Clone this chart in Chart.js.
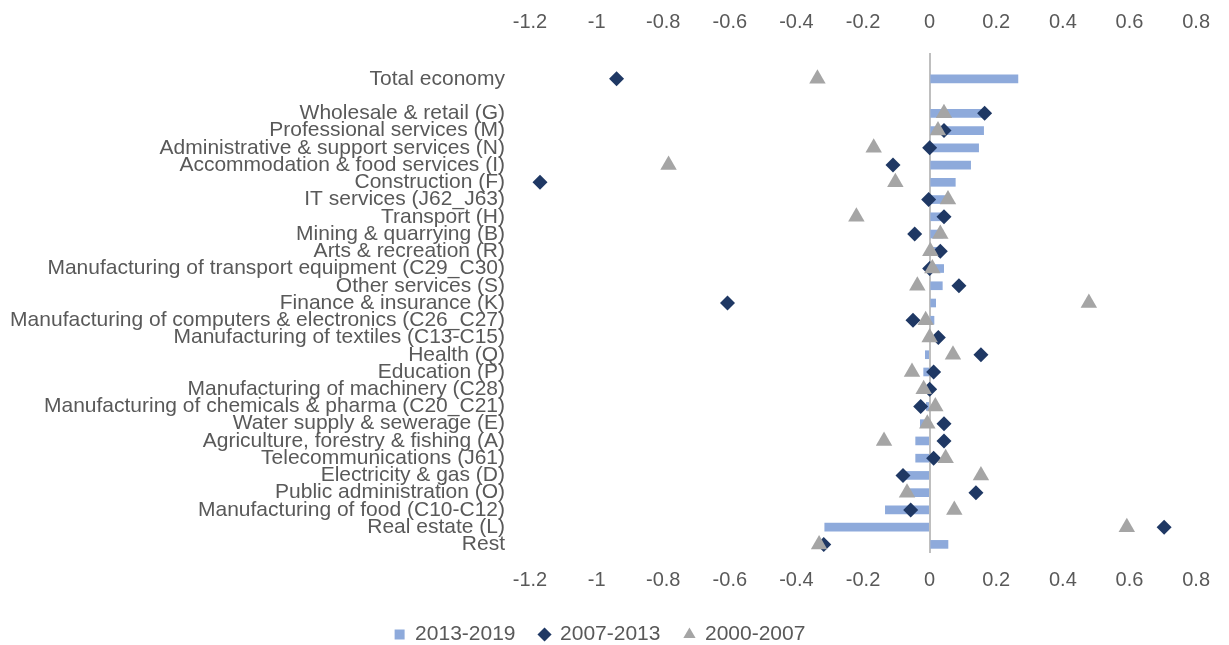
<!DOCTYPE html>
<html>
<head>
<meta charset="utf-8">
<script src="https://cdn.jsdelivr.net/npm/chart.js@4"></script>
<style>
  body { margin: 0; background: #fff; }
</style>
</head>
<body>
<canvas id="myChart" width="1229" height="645"></canvas>
<script>
"use strict";
var categories = [
  "",
  "Total economy",
  "",
  "Wholesale & retail (G)",
  "Professional services (M)",
  "Administrative & support services (N)",
  "Accommodation & food services (I)",
  "Construction (F)",
  "IT services (J62_J63)",
  "Transport (H)",
  "Mining & quarrying (B)",
  "Arts & recreation (R)",
  "Manufacturing of transport equipment (C29_C30)",
  "Other services (S)",
  "Finance & insurance (K)",
  "Manufacturing of computers & electronics (C26_C27)",
  "Manufacturing of textiles (C13-C15)",
  "Health (Q)",
  "Education (P)",
  "Manufacturing of machinery (C28)",
  "Manufacturing of chemicals & pharma (C20_C21)",
  "Water supply & sewerage (E)",
  "Agriculture, forestry & fishing (A)",
  "Telecommunications (J61)",
  "Electricity & gas (D)",
  "Public administration (O)",
  "Manufacturing of food (C10-C12)",
  "Real estate (L)",
  "Rest",
];
var seriesNames = ["2013-2019", "2007-2013", "2000-2007"];
var values2013_2019 = [
  null, 0.265, null, 0.165, 0.162, 0.147, 0.123, 0.077, 0.045, 0.035, 0.04,
  0.03, 0.042, 0.038, 0.018, 0.013, -0.005, -0.013, -0.018, -0.008, -0.01,
  -0.028, -0.042, -0.042, -0.075, -0.06, -0.133, -0.315, 0.055,
];
var values2007_2013 = [
  null, -0.94, null, 0.165, 0.043, 0.0, -0.11, -1.17, -0.003, 0.043, -0.045,
  0.032, 0.0, 0.088, -0.607, -0.05, 0.026, 0.154, 0.012, 0.0, -0.027, 0.043,
  0.043, 0.012, -0.08, 0.139, -0.057, 0.704, -0.318,
];
var values2000_2007 = [
  null, -0.337, null, 0.043, 0.025, -0.168, -0.784, -0.103, 0.055, -0.22,
  0.032, 0.002, 0.008, -0.037, 0.478, -0.012, 0.0, 0.07, -0.053, -0.018,
  0.017, -0.007, -0.137, 0.048, 0.154, -0.068, 0.074, 0.592, -0.332,
];
var axisMin = -1.2;
var axisMax = 0.8;
var axisStep = 0.2;

var textColor = "#595959";
var fontFamily = "'Liberation Sans', Arial, sans-serif";
var colors = ["#8eaadb", "#1f3864", "#a5a5a5"];
var legendStyles = ["rect", "rectRot", "triangle"];

function tickLabel(v) {
  return Math.round(v * 10) / 10;
}

var ctx = document.getElementById("myChart");
var myChart = new Chart(ctx, {
  type: "bar",
  data: {
    labels: categories,
    datasets: [
      {
        label: seriesNames[0],
        data: values2013_2019,
        backgroundColor: colors[0],
        borderWidth: 0,
        barThickness: 8,
        order: 3,
      },
      {
        type: "line",
        label: seriesNames[1],
        data: values2007_2013,
        showLine: false,
        pointStyle: "rectRot",
        pointRadius: 7.5,
        pointBackgroundColor: colors[1],
        pointBorderColor: colors[1],
        pointBorderWidth: 0,
        order: 2,
      },
      {
        type: "line",
        label: seriesNames[2],
        data: values2000_2007,
        showLine: false,
        pointStyle: "triangle",
        pointRadius: 9.5,
        pointBackgroundColor: colors[2],
        pointBorderColor: colors[2],
        pointBorderWidth: 0,
        order: 1,
      },
    ],
  },
  options: {
    responsive: false,
    animation: false,
    indexAxis: "y",
    layout: { padding: { top: 10, right: 29, left: 0, bottom: -10 } },
    scales: {
      x: {
        type: "linear",
        position: "bottom",
        min: axisMin,
        max: axisMax,
        ticks: {
          stepSize: axisStep,
          color: textColor,
          font: { family: fontFamily, size: 20 },
          padding: 15,
          maxRotation: 0,
          callback: tickLabel,
        },
        grid: {
          drawTicks: false,
          lineWidth: 2,
          color: function (c) {
            return c.tick && Math.abs(c.tick.value) < 1e-9 ? "#bfbfbf" : "rgba(0,0,0,0)";
          },
        },
        border: { display: false },
        afterFit: function (scale) {
          scale.height = 47;
        },
      },
      x2: {
        type: "linear",
        position: "top",
        min: axisMin,
        max: axisMax,
        ticks: {
          stepSize: axisStep,
          color: textColor,
          font: { family: fontFamily, size: 20 },
          padding: 19,
          maxRotation: 0,
          callback: tickLabel,
        },
        grid: { display: false, drawTicks: false },
        border: { display: false },
        afterFit: function (scale) {
          scale.height = 43;
        },
      },
      y: {
        type: "category",
        ticks: {
          autoSkip: false,
          color: textColor,
          font: { family: fontFamily, size: 21 },
          padding: 25,
        },
        grid: { display: false, drawTicks: false },
        border: { display: false },
        afterFit: function (scale) {
          scale.width = 530;
          scale.paddingTop = 0;
          scale.paddingBottom = 0;
        },
      },
    },
    plugins: {
      tooltip: { enabled: false },
      legend: {
        position: "bottom",
        labels: {
          color: textColor,
          font: { family: fontFamily, size: 21 },
          usePointStyle: true,
          boxWidth: 10,
          boxHeight: 10,
          padding: 24,
          generateLabels: function (chart) {
            return chart.data.datasets.map(function (ds, i) {
              return {
                text: ds.label,
                fillStyle: colors[i],
                strokeStyle: colors[i],
                lineWidth: 0,
                pointStyle: legendStyles[i],
                fontColor: textColor,
                hidden: false,
                datasetIndex: i,
              };
            });
          },
        },
      },
    },
  },
});
</script>
</body>
</html>
